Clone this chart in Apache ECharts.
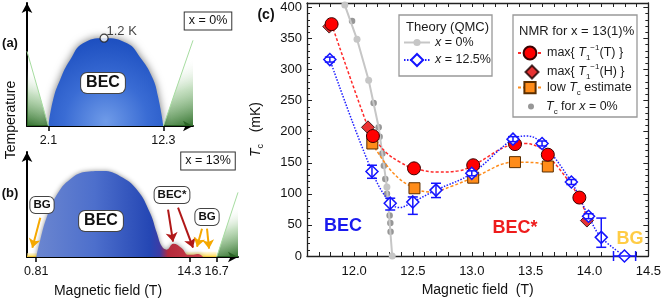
<!DOCTYPE html>
<html><head><meta charset="utf-8">
<script src="https://cdn.jsdelivr.net/npm/echarts@6/dist/echarts.min.js"></script>
<style>html,body{margin:0;padding:0;background:#fff}#c{width:664px;height:302px}</style>
</head><body><div id="c"></div>
<script>
const FONT = '"Liberation Sans", Arial, Helvetica, sans-serif';

// ---------------- Panel (c) data ----------------
// Theory (QMC), x = 0%  (light gray markers)
const qmc0X = [11.921, 12.025, 12.124, 12.279, 12.324];
const qmc0Y = [403.7, 348.6, 282.7, 110.8, 0];
const qmc0GuideX = [11.90, 12.209];
const qmc0GuideY = [430, 207];
// Tc for x = 0% (dark gray dots)
const tc0X = [11.983, 12.166, 12.209, 12.217, 12.240, 12.253, 12.265, 12.279, 12.293, 12.302, 12.308, 12.310];
const tc0Y = [378, 246, 207, 192, 165, 145, 124, 100, 85, 65, 53, 39];
// NMR max{T1^-1(T)}
const redCircX = [11.809, 12.160, 12.509, 13.012, 13.367, 13.646, 13.914];
const redCircY = [373, 193, 141, 146, 180, 163, 94];
const redGuideX = [12.118, 12.27, 12.39, 12.72, 12.89, 13.45, 13.57, 13.978];
const redGuideY = [207, 167, 151, 135, 137, 181, 175, 57];
// NMR max{T1^-1(H)}
const redDiaX = [11.789, 12.118, 13.978];
const redDiaY = [369, 207, 57];
// low Tc estimate
const orgX = [12.155, 12.513, 13.012, 13.367, 13.646];
const orgY = [181, 109, 126, 151, 144];
const orgGuideX = [12.33, 12.65, 12.84, 13.55];
const orgGuideY = [134, 103, 113, 150];
// Theory (QMC), x = 12.5%
const qmc12X  = [11.794, 12.152, 12.307, 12.499, 12.696, 13.0, 13.35, 13.597, 13.846, 13.992, 14.1, 14.297];
const qmc12Y  = [316, 136, 85, 87, 106, 133, 188, 181, 119, 64, 30, 0];
const qmc12Lo = [312, 125, 74, 67, 94, 129, 184, 177, 115, 60, 14, 0];
const qmc12Hi = [320, 146, 93, 95, 117, 137, 192, 185, 123, 68, 61, 0];
const qmc12XLo = [11.794, 12.152, 12.307, 12.499, 12.696, 13.0, 13.35, 13.597, 13.846, 13.992, 14.1, 14.204];
const qmc12XHi = [11.794, 12.152, 12.307, 12.499, 12.696, 13.0, 13.35, 13.597, 13.846, 13.992, 14.1, 14.392];
const blueGuideX = [12.386, 13.47];
const blueGuideY = [78, 193];

// ---------------- Panel (a) schematic data ----------------
const domeAX = [2.1, 2.51, 3.13, 4.02, 5.17, 7.04, 9.08, 10.23, 11.3, 11.83, 12.3];
const domeAY = [0, 0.355, 0.63, 0.90, 1.13, 1.2, 1.13, 0.94, 0.67, 0.40, 0];
const greenALeftX = [0.2, 2.1], greenALeftY = [1.02, 0];
const greenARightX = [12.3, 14.93], greenARightY = [0, 1.17];
const peakA = [7.04, 1.2];
const ticksA = [2.1, 12.3];

// ---------------- Panel (b) schematic data ----------------
const domeBX = [0.81, 1.17, 1.76, 2.64, 3.81, 5.27, 6.73, 8.2, 9.67, 10.84, 11.43, 11.87, 12.3, 12.89, 13.63, 14.2, 14.65, 15.09, 15.5];
const domeBY = [0, 0.236, 0.55, 0.85, 1.06, 1.16, 1.17, 1.10, 0.92, 0.60, 0.33, 0.145, 0.10, 0.18, 0.12, 0.03, 0.03, 0.04, 0];
const greenBX = [16.7, 18.58], greenBY = [0, 0.88];
const yellowBLeftX = [0, 0.9], yellowBLeftY = [0.055, 0.055];
const yellowBRightX = [13.6, 16.7], yellowBRightY = [0.07, 0.07];
const ticksB = [0.81, 14.3, 16.7];
// arrows [x1,y1,x2,y2,colour]
const arrowsB = [
  [1.17, 0.536, 0.47, 0.127, '#f5a800'],
  [12.42, 0.645, 12.86, 0.209, '#b01818'],
  [13.30, 0.673, 14.62, 0.127, '#b01818'],
  [15.41, 0.386, 14.97, 0.14, '#f5a800'],
  [15.85, 0.386, 16.03, 0.113, '#f5a800']
];

// ---------------- helpers ----------------
function pts(xs, ys){ return xs.map((x,i)=>[x, ys[i]]); }
function merged(mx, my, gx, gy){
  const a = mx.map((x,i)=>({value:[x, my[i]]}))
    .concat(gx.map((x,i)=>({value:[x, gy[i]], symbol:'none'})));
  a.sort((p,q)=>p.value[0]-q.value[0]);
  return a;
}
const RICH = {
  i:{fontStyle:'italic', lineHeight:18},
  sub:{fontSize:8, verticalAlign:'bottom'},
  sup:{fontSize:8, verticalAlign:'top'}
};

const S_Q0 = 'QMC x=0%', S_Q12 = 'QMC x=12.5%', S_RC = 'max T1(T)', S_RD = 'max T1(H)', S_OR = 'low Tc', S_TC = 'Tc x=0%';

const axC = {color:'#222', width:1.3};
const chart = echarts.init(document.getElementById('c'), null, {renderer:'canvas'});

function leg(extra, pad){
  return Object.assign({orient:'horizontal', selectedMode:false, padding:0, itemGap:0,
    textStyle:{fontSize:12.5, color:'#1a1a1a', fontFamily:FONT, rich:RICH, padding:[0,0,0,pad||0]}}, extra);
}
const greenGrad = (x0,y0,x1,y1)=>new echarts.graphic.LinearGradient(x0,y0,x1,y1,[
  {offset:0,color:'rgba(40,105,35,0.95)'},{offset:0.45,color:'rgba(110,175,100,0.40)'},{offset:0.8,color:'rgba(255,255,255,0)'}]);

const option = {
  animation:false,
  textStyle:{fontFamily:FONT},
  grid:[
    {left:307, top:3, width:343, height:254},
    {left:27, top:3, width:166, height:123},
    {left:27, top:152, width:211, height:105}
  ],
  xAxis:[
    {gridIndex:0, type:'value', min:11.6, max:14.5, interval:0.1, position:'bottom',
      name:'Magnetic field  (T)', nameLocation:'middle', nameGap:27,
      nameTextStyle:{fontSize:14, color:'#111'},
      axisLine:{onZero:false, lineStyle:axC},
      axisTick:{inside:true, length:4, lineStyle:{color:'#222'}},
      axisLabel:{fontSize:13, color:'#111', margin:9,
        formatter:v=>(Math.round(v*10)%5===0 ? v.toFixed(1) : '')},
      splitLine:{show:false}},
    {gridIndex:0, type:'value', min:11.6, max:14.5, interval:0.1, position:'top',
      axisLine:{onZero:false, lineStyle:axC}, axisTick:{inside:true, length:4, lineStyle:{color:'#222'}},
      axisLabel:{show:false}, splitLine:{show:false}},
    {gridIndex:1, type:'value', min:0.2, max:14.93,
      axisLine:{onZero:false, symbol:['none','arrow'], symbolSize:[8,10], lineStyle:{color:'#000', width:2}},
      axisTick:{customValues:ticksA, length:5, lineStyle:{color:'#000', width:1.5}},
      axisLabel:{customValues:ticksA, fontSize:12.5, color:'#111', margin:8, formatter:v=>String(v)},
      splitLine:{show:false}},
    {gridIndex:2, type:'value', min:0, max:18.58,
      axisLine:{onZero:false, symbol:['none','arrow'], symbolSize:[8,10], lineStyle:{color:'#000', width:2}},
      axisTick:{customValues:ticksB, length:5, lineStyle:{color:'#000', width:1.5}},
      axisLabel:{customValues:ticksB, fontSize:12.5, color:'#111', margin:8, formatter:v=>String(v)},
      splitLine:{show:false}}
  ],
  yAxis:[
    {gridIndex:0, type:'value', min:0, max:407, interval:50, position:'left',
      name:'{i|T}{sub|c}   (mK)', nameLocation:'middle', nameGap:42,
      nameTextStyle:{fontSize:14, color:'#111', rich:{i:{fontStyle:'italic', fontSize:14, lineHeight:18}, sub:{fontSize:9, verticalAlign:'bottom'}}},
      axisLine:{onZero:false, lineStyle:axC},
      axisTick:{inside:true, length:5, lineStyle:{color:'#222'}},
      minorTick:{show:true, splitNumber:5, length:3, lineStyle:{color:'#222'}},
      axisLabel:{fontSize:13, color:'#111', margin:5, formatter:v=>(v%50===0 ? String(v) : '')},
      splitLine:{show:false}, minorSplitLine:{show:false}},
    {gridIndex:0, type:'value', min:0, max:407, interval:50, position:'right',
      axisLine:{onZero:false, lineStyle:axC},
      axisTick:{inside:true, length:5, lineStyle:{color:'#222'}},
      minorTick:{show:true, splitNumber:5, length:3, lineStyle:{color:'#222'}},
      axisLabel:{show:false}, splitLine:{show:false}},
    {gridIndex:1, type:'value', min:0, max:1.68,
      axisLine:{onZero:false, symbol:['none','arrow'], symbolSize:[8,10], lineStyle:{color:'#000', width:2}},
      axisTick:{show:false}, axisLabel:{show:false}, splitLine:{show:false}},
    {gridIndex:2, type:'value', min:0, max:1.43,
      axisLine:{onZero:false, symbol:['none','arrow'], symbolSize:[8,10], lineStyle:{color:'#000', width:2}},
      axisTick:{show:false}, axisLabel:{show:false}, splitLine:{show:false}}
  ],
  legend:[
    leg({data:[S_Q0], left:403, top:45-9, itemWidth:26, itemHeight:9, formatter:()=>'{i|x} = 0%'}),
    leg({data:[S_Q12], left:403, top:62-9, itemWidth:26, itemHeight:15, formatter:()=>'{i|x} = 12.5%'}),
    leg({data:[S_RC], left:517, top:53-9, itemWidth:24, itemHeight:16, formatter:()=>'max{ {i|T}{sub|1}{sup|−1}(T) }'}),
    leg({data:[S_RD], left:524.5, top:72-9, itemWidth:13, itemHeight:13, formatter:()=>'max{ {i|T}{sub|1}{sup|−1}(H) }'}, 3.5),
    leg({data:[S_OR], left:517, top:90-9, itemWidth:24, itemHeight:14, formatter:()=>'low {i|T}{sub|c} estimate'}),
    leg({data:[S_TC], left:528, top:109-9, itemWidth:6, itemHeight:6, formatter:()=>'{i|T}{sub|c} for {i|x} = 0%'}, 7)
  ],
  series:[
    // ---- panel (c)
    {name:S_Q0, type:'line', xAxisIndex:0, yAxisIndex:0, data:merged(qmc0X, qmc0Y, qmc0GuideX, qmc0GuideY),
      symbol:'circle', symbolSize:7, itemStyle:{color:'#c6c6c6'}, lineStyle:{color:'#c6c6c6', width:2}},
    {name:S_TC, type:'scatter', xAxisIndex:0, yAxisIndex:0, data:pts(tc0X, tc0Y),
      symbol:'circle', symbolSize:6.5, itemStyle:{color:'#7d7d7d'}},
    {name:S_OR, type:'line', xAxisIndex:0, yAxisIndex:0, smooth:0.4, data:merged(orgX, orgY, orgGuideX, orgGuideY),
      symbol:'rect', symbolSize:11, itemStyle:{color:'#ff8c1a', borderColor:'#5a2e00', borderWidth:1},
      lineStyle:{color:'#ff8c1a', width:1.5, type:[3,2]}},
    {name:S_RC, type:'line', xAxisIndex:0, yAxisIndex:0, smooth:0.4, data:merged(redCircX, redCircY, redGuideX, redGuideY),
      symbol:'circle', symbolSize:13, itemStyle:{color:'#ff0000', borderColor:'#3a0000', borderWidth:1},
      lineStyle:{color:'#ff2a2a', width:1.5, type:[3,2]}},
    {name:S_RD, type:'scatter', xAxisIndex:0, yAxisIndex:0, data:pts(redDiaX, redDiaY),
      symbol:'diamond', symbolSize:13, itemStyle:{color:'#e00000', borderColor:'#1a0000', borderWidth:1}},
    {name:S_Q12, type:'line', xAxisIndex:0, yAxisIndex:0, smooth:0.4, z:3,
      data:merged(qmc12X, qmc12Y, blueGuideX, blueGuideY),
      symbol:'diamond', symbolSize:12, itemStyle:{color:'#ffffff', borderColor:'#1414ff', borderWidth:1.5},
      lineStyle:{color:'#1f1fff', width:1.5, type:[1.5,1.5]}},
    {name:'errbars', type:'custom', xAxisIndex:0, yAxisIndex:0, z:4, silent:true,
      data:qmc12X.map((x,i)=>[x, qmc12Y[i], qmc12XLo[i], qmc12XHi[i], qmc12Lo[i], qmc12Hi[i]]),
      encode:{x:[0,2,3], y:[1,4,5]},
      renderItem:function(params, api){
        const xc=api.value(0), yc=api.value(1), xl=api.value(2), xh=api.value(3), yl=api.value(4), yh=api.value(5);
        const st={stroke:'#1414ff', lineWidth:1.5, fill:null};
        const ch=[]; const cap=5;
        if (yh>yl){
          const a=api.coord([xc,yl]), b=api.coord([xc,yh]);
          ch.push({type:'line', shape:{x1:a[0],y1:a[1],x2:b[0],y2:b[1]}, style:st});
          ch.push({type:'line', shape:{x1:a[0]-cap,y1:a[1],x2:a[0]+cap,y2:a[1]}, style:st});
          ch.push({type:'line', shape:{x1:b[0]-cap,y1:b[1],x2:b[0]+cap,y2:b[1]}, style:st});
        }
        if (xh>xl){
          const a=api.coord([xl,yc]), b=api.coord([xh,yc]);
          ch.push({type:'line', shape:{x1:a[0],y1:a[1],x2:b[0],y2:b[1]}, style:st});
          ch.push({type:'line', shape:{x1:a[0],y1:a[1]-cap,x2:a[0],y2:a[1]+cap}, style:st});
          ch.push({type:'line', shape:{x1:b[0],y1:b[1]-cap,x2:b[0],y2:b[1]+cap}, style:st});
        }
        return {type:'group', children:ch};
      }},
    // ---- panel (a)
    {name:'greenAL', type:'line', xAxisIndex:2, yAxisIndex:2, data:pts(greenALeftX, greenALeftY), symbol:'none',
      lineStyle:{color:'#a6dca0', width:1},
      areaStyle:{opacity:1, color:greenGrad(0,1,0.9,0.1)}},
    {name:'greenAR', type:'line', xAxisIndex:2, yAxisIndex:2, data:pts(greenARightX, greenARightY), symbol:'none',
      lineStyle:{color:'#a6dca0', width:1},
      areaStyle:{opacity:1, color:greenGrad(1,1,0.1,0.1)}},
    {name:'domeA', type:'line', xAxisIndex:2, yAxisIndex:2, smooth:0.5, data:pts(domeAX, domeAY), symbol:'none',
      lineStyle:{width:0},
      areaStyle:{opacity:1, shadowBlur:9, shadowColor:'rgba(0,0,0,0.55)',
        color:new echarts.graphic.RadialGradient(0.5,0.95,0.95,[{offset:0,color:'#6f9be8'},{offset:0.5,color:'#3a6cd4'},{offset:1,color:'#1d4fc0'}])}},
    {name:'peakA', type:'scatter', xAxisIndex:2, yAxisIndex:2, data:[peakA], symbol:'circle', symbolSize:8, z:5,
      itemStyle:{color:'#fff', borderColor:'#111', borderWidth:1.2},
      label:{show:true, formatter:'1.2 K', position:[7,-9], align:'left', verticalAlign:'top', fontSize:13, color:'#111'}},
    // ---- panel (b)
    {name:'greenB', type:'line', xAxisIndex:3, yAxisIndex:3, data:pts(greenBX, greenBY), symbol:'none',
      lineStyle:{color:'#a6dca0', width:1},
      areaStyle:{opacity:1, color:greenGrad(1,1,0.1,0.1)}},
    {name:'yellowBL', type:'line', xAxisIndex:3, yAxisIndex:3, data:pts(yellowBLeftX, yellowBLeftY), symbol:'none',
      lineStyle:{width:0},
      areaStyle:{opacity:1, color:new echarts.graphic.LinearGradient(0,1,0,0,[{offset:0,color:'#ffd23a'},{offset:1,color:'rgba(255,240,170,0.4)'}])},
      markLine:{silent:true, symbol:['none','arrow'], symbolSize:9, label:{show:false},
        lineStyle:{width:2, type:'solid'},
        data:arrowsB.map(a=>[{coord:[a[0],a[1]], lineStyle:{color:a[4], width:2, type:'solid'}, itemStyle:{color:a[4]}}, {coord:[a[2],a[3]]}])}},
    {name:'yellowBR', type:'line', xAxisIndex:3, yAxisIndex:3, data:pts(yellowBRightX, yellowBRightY), symbol:'none',
      lineStyle:{width:0},
      areaStyle:{opacity:1, color:new echarts.graphic.LinearGradient(0,1,0,0,[{offset:0,color:'#ffd23a'},{offset:1,color:'rgba(255,240,170,0.4)'}])}},
    {name:'domeB', type:'line', xAxisIndex:3, yAxisIndex:3, smooth:0.45, data:pts(domeBX, domeBY), symbol:'none',
      lineStyle:{width:0},
      areaStyle:{opacity:1, shadowBlur:5, shadowColor:'rgba(0,0,0,0.45)',
        color:new echarts.graphic.LinearGradient(0,0,1,0,[
          {offset:0,color:'#6b86d0'},{offset:0.35,color:'#4d6fcc'},{offset:0.68,color:'#2547b4'},
          {offset:0.74,color:'#3b3ca6'},{offset:0.79,color:'#b52a3c'},{offset:1,color:'#c8404a'}])}}
  ],
  graphic:[
    {type:'text', x:10, y:43, style:{text:'(a)', font:'bold 13px '+FONT, fill:'#111', align:'center', verticalAlign:'middle'}},
    {type:'text', x:10, y:193, style:{text:'(b)', font:'bold 13px '+FONT, fill:'#111', align:'center', verticalAlign:'middle'}},
    {type:'text', x:266, y:15, style:{text:'(c)', font:'bold 14px '+FONT, fill:'#111', align:'center', verticalAlign:'middle'}},
    {type:'text', x:11, y:120, rotation:Math.PI/2, style:{text:'Temperature', font:'14px '+FONT, fill:'#111', align:'center', verticalAlign:'middle'}},
    {type:'text', x:108, y:291, style:{text:'Magnetic field (T)', font:'14px '+FONT, fill:'#111', align:'center', verticalAlign:'middle'}},
    {type:'text', x:208, y:21, z:10, style:{text:'{i|x} = 0%', rich:{i:{fontStyle:'italic'}}, font:'12.5px '+FONT, fill:'#111', align:'center', verticalAlign:'middle',
      backgroundColor:'#fff', borderColor:'#333', borderWidth:1, padding:[2,4]}},
    {type:'text', x:208, y:161, z:10, style:{text:'{i|x} = 13%', rich:{i:{fontStyle:'italic'}}, font:'12.5px '+FONT, fill:'#111', align:'center', verticalAlign:'middle',
      backgroundColor:'#fff', borderColor:'#333', borderWidth:1, padding:[2,4]}},
    {type:'text', x:103, y:83, z:10, style:{text:'BEC', font:'bold 16px '+FONT, fill:'#111', align:'center', verticalAlign:'middle',
      backgroundColor:'#fff', borderColor:'#444', borderWidth:1, borderRadius:6, padding:[2,5]}},
    {type:'text', x:101, y:221, z:10, style:{text:'BEC', font:'bold 16px '+FONT, fill:'#111', align:'center', verticalAlign:'middle',
      backgroundColor:'#fff', borderColor:'#444', borderWidth:1, borderRadius:6, padding:[2,5]}},
    {type:'text', x:42, y:205, z:10, style:{text:'BG', font:'bold 11.5px '+FONT, fill:'#111', align:'center', verticalAlign:'middle',
      backgroundColor:'#fff', borderColor:'#444', borderWidth:1, borderRadius:5, padding:[2,3]}},
    {type:'text', x:172, y:195, z:10, style:{text:'BEC*', font:'bold 11.5px '+FONT, fill:'#111', align:'center', verticalAlign:'middle',
      backgroundColor:'#fff', borderColor:'#444', borderWidth:1, borderRadius:5, padding:[2,3]}},
    {type:'text', x:207, y:217, z:10, style:{text:'BG', font:'bold 11.5px '+FONT, fill:'#111', align:'center', verticalAlign:'middle',
      backgroundColor:'#fff', borderColor:'#444', borderWidth:1, borderRadius:5, padding:[2,3]}},
    {type:'text', x:343, y:226, style:{text:'BEC', font:'bold 18px '+FONT, fill:'#1a1aee', align:'center', verticalAlign:'middle'}},
    {type:'text', x:515, y:228, style:{text:'BEC*', font:'bold 18px '+FONT, fill:'#ee1c1c', align:'center', verticalAlign:'middle'}},
    {type:'text', x:630, y:239, style:{text:'BG', font:'bold 18px '+FONT, fill:'#ffcc45', align:'center', verticalAlign:'middle'}},
    {type:'rect', shape:{x:399, y:15, width:93, height:61}, style:{fill:'#fff', stroke:'#999', lineWidth:1.3}, z:-1},
    {type:'rect', shape:{x:513, y:15, width:124, height:102}, style:{fill:'#fff', stroke:'#999', lineWidth:1.3}, z:-1},
    {type:'text', x:406, y:27, style:{text:'Theory (QMC)', font:'13px '+FONT, fill:'#1a1a1a', align:'left', verticalAlign:'middle'}},
    {type:'text', x:519, y:31, style:{text:'NMR for {i|x} = 13(1)%', rich:{i:{fontStyle:'italic'}}, font:'13px '+FONT, fill:'#1a1a1a', align:'left', verticalAlign:'middle'}}
  ]
};
chart.setOption(option);
</script></body></html>
